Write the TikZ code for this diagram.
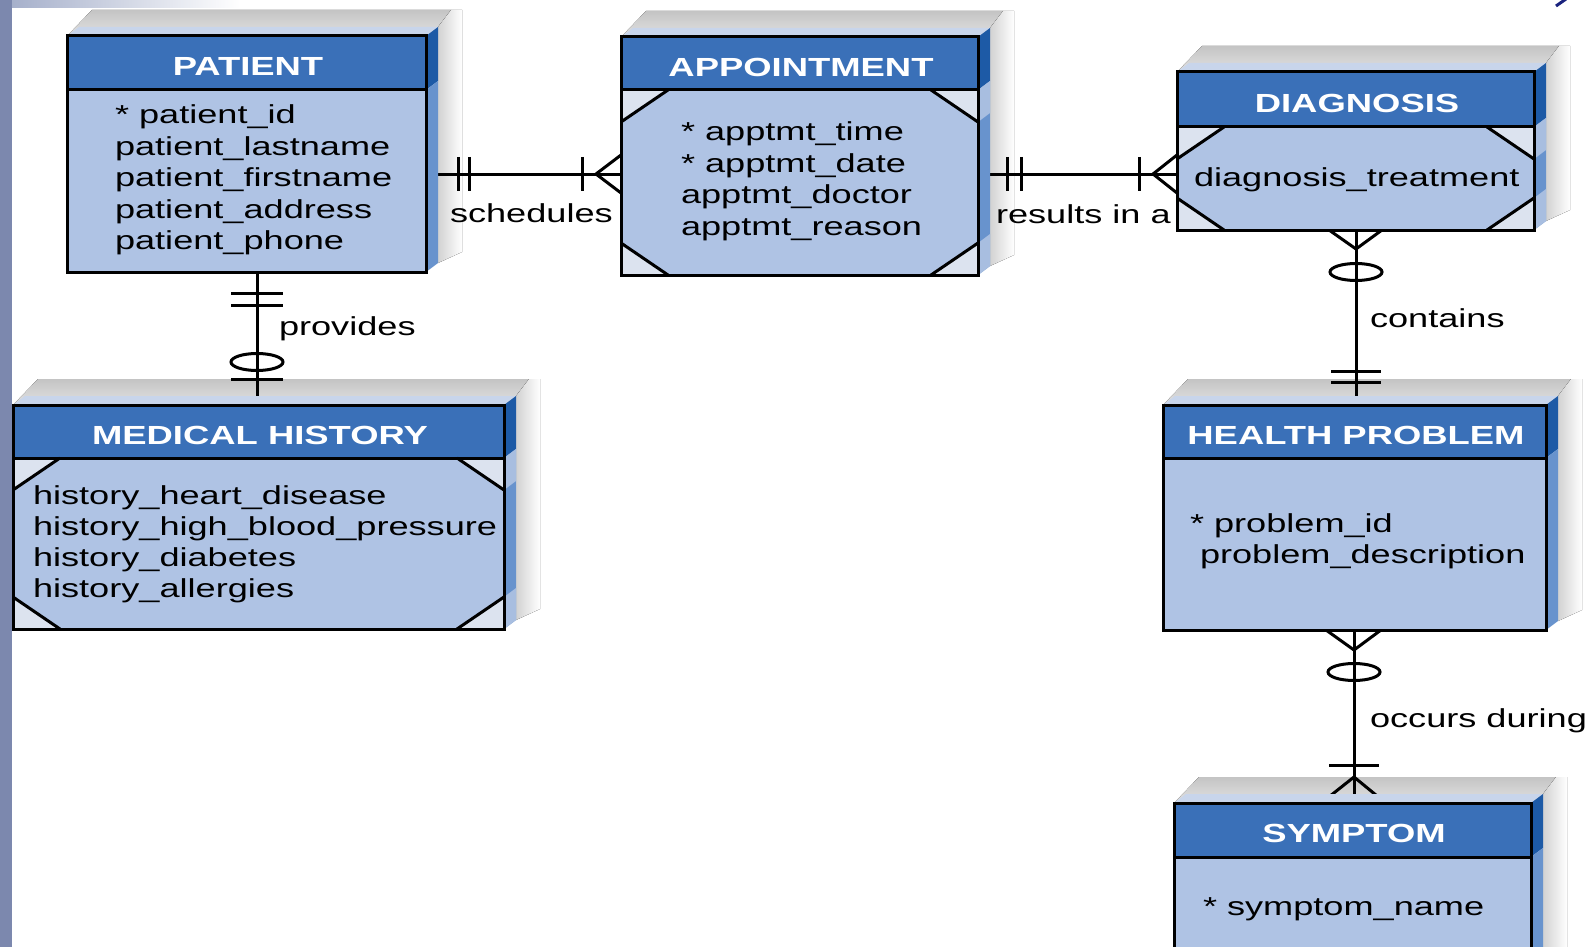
\documentclass[tikz,border=0pt]{standalone}
\usepackage{fontspec}
\setmainfont[FakeStretch=1.39]{Liberation Sans}
\usetikzlibrary{calc,fit}
\definecolor{hdr}{HTML}{3A70B8}
\definecolor{bodyc}{HTML}{AFC3E4}
\definecolor{cornerc}{HTML}{DCE3EF}
\definecolor{sidedk}{HTML}{1D5AA6}
\definecolor{sidemd}{HTML}{6893CD}
\definecolor{sidelt}{HTML}{A8BEE0}
\definecolor{topface}{HTML}{C8D5EB}
\definecolor{stripc}{HTML}{7C88AE}
\definecolor{bandc}{HTML}{A6B0CB}
\definecolor{shtop}{HTML}{C4C4C4}
\definecolor{shbot}{HTML}{E2E2E2}
\definecolor{shside}{HTML}{D2D2D2}
\definecolor{navy}{HTML}{1A237E}

\tikzset{
  conn/.style={line width=3pt, black},
  boxline/.style={line width=3pt, black, line join=miter},
  attr/.style={anchor=base west, inner sep=0pt, outer sep=0pt, font=\fontsize{26}{31}\selectfont},
  rel/.style={anchor=base west, inner sep=0pt, outer sep=0pt, font=\fontsize{26}{31}\selectfont},
  title/.style={inner sep=0pt, text=white, font=\fontsize{26.2}{31}\selectfont\bfseries},
  ebox/.style={inner sep=0pt, outer sep=0pt},
}

% #1 name, #2 L, #3 T, #4 R, #5 B
\newcommand\ershadow[5]{%
  \fill[top color=shtop, bottom color=shbot] (#2,#3) -- ({#2+25},{#3-26}) -- ({#4+25},{#3-26}) -- ({#4+12},{#3-9}) -- (#4,#3) -- cycle;
  \fill[left color=shside, right color=white] ({#4+12},{#3-9}) -- ({#4+25},{#3-26}) -- ({#4+36},{#3-26}) -- ({#4+36},{#5-20}) -- ({#4+12},{#5-9}) -- cycle;
  \node[ebox, fit={(#2,#3) (#4,#5)}] (#1) {};
}

% #1 name, #2 L, #3 T, #4 R, #5 B, #6 H, #7 title, #8 octagon flag
\newcommand\erbox[8]{%
  \fill[topface] (#2,#3) -- ({#2+12},{#3-9}) -- ({#4+12},{#3-9}) -- (#4,#3) -- cycle;
  \fill[sidedk] (#4,#3) -- ({#4+12},{#3-9}) -- ({#4+12},{#6-9}) -- (#4,#6) -- cycle;
  \fill[sidemd] (#4,#6) -- ({#4+12},{#6-9}) -- ({#4+12},{#5-9}) -- (#4,#5) -- cycle;
  \fill[hdr] (#2,#3) rectangle (#4,#6);
  \ifnum#8=1
    \fill[sidelt] (#4,#6) -- ({#4+12},{#6-9}) -- ({#4+12},{#6+23}) -- (#4,{#6+32}) -- cycle;
    \fill[sidelt] (#4,{#5-32}) -- ({#4+12},{#5-41}) -- ({#4+12},{#5-9}) -- (#4,#5) -- cycle;
    \fill[cornerc] (#2,#6) rectangle (#4,#5);
    \fill[bodyc] ({#2+47},#6) -- ({#4-47},#6) -- (#4,{#6+32}) -- (#4,{#5-32}) -- ({#4-47},#5) -- ({#2+47},#5) -- (#2,{#5-32}) -- (#2,{#6+32}) -- cycle;
    \draw[boxline] ({#2+47},#6) -- (#2,{#6+32}) ({#4-47},#6) -- (#4,{#6+32}) ({#2+47},#5) -- (#2,{#5-32}) ({#4-47},#5) -- (#4,{#5-32});
  \else
    \fill[bodyc] (#2,#6) rectangle (#4,#5);
  \fi
  \draw[boxline] (#2,#3) rectangle (#4,#5) (#2,#6) -- (#4,#6);
  \node[title] (#1-t) at ({(#2+#4)/2+1.5},{(#3+#6)/2+3.5}) {#7};
}

\begin{document}
\begin{tikzpicture}[x=1pt,y=-1pt]
\useasboundingbox (0,0) rectangle (1593,947);
\clip (0,0) rectangle (1593,947);
\fill[white] (0,0) rectangle (1593,947);
\fill[left color=bandc, right color=white] (12,0) rectangle (240,8);
\fill[stripc] (0,0) rectangle (12,947);
\draw[navy, line width=3pt] (1556,6) -- (1566,-1);

% shadows and named entity frames
\ershadow{patient}{67}{36}{426}{272}
\ershadow{appt}{621}{37}{978}{275}
\ershadow{diag}{1177}{72}{1534}{230}
\ershadow{medhist}{13}{405}{504}{629}
\ershadow{healthp}{1163}{405}{1546}{630}
\ershadow{symptom}{1174}{803}{1531}{980}

% schedules
\coordinate (sA) at ($(patient.north east)+(0,138)$);
\coordinate (sB) at ($(appt.north west)+(0,137)$);
\draw[conn] (sA) -- (sB);
\draw[conn] ($(sA)+(32,-17)$) -- +(0,34);
\draw[conn] ($(sA)+(43,-17)$) -- +(0,34);
\draw[conn] ($(sB)+(-39,-17)$) -- +(0,34);
\draw[conn] ($(sB)+(0,-19)$) -- ($(sB)+(-25,0)$) -- ($(sB)+(0,19)$);

% results in a
\coordinate (rA) at ($(appt.north east)+(0,137)$);
\coordinate (rB) at ($(diag.north west)+(0,102)$);
\draw[conn] (rA) -- (rB);
\draw[conn] ($(rA)+(29,-17)$) -- +(0,34);
\draw[conn] ($(rA)+(43,-17)$) -- +(0,34);
\draw[conn] ($(rB)+(-38,-17)$) -- +(0,34);
\draw[conn] ($(rB)+(0,-19)$) -- ($(rB)+(-24,0)$) -- ($(rB)+(0,19)$);

% provides
\coordinate (pA) at ($(patient.south west)+(190,0)$);
\coordinate (pB) at ($(medhist.north west)+(244,0)$);
\draw[conn] (pA) -- (pB);
\draw[conn] ($(pA)+(-26,21)$) -- +(52,0);
\draw[conn] ($(pA)+(-26,33)$) -- +(52,0);
\draw[conn] ($(pB)+(0,-43)$) ellipse [x radius=26pt, y radius=8.5pt];
\draw[conn] ($(pB)+(-26,-26)$) -- +(52,0);

% contains
\coordinate (cA) at ($(diag.south west)+(179,0)$);
\coordinate (cB) at ($(healthp.north west)+(193,0)$);
\draw[conn] (cA) -- (cB);
\draw[conn] ($(cA)+(-27,0)$) -- ($(cA)+(0,19)$) -- ($(cA)+(26,0)$);
\draw[conn] ($(cA)+(0,42)$) ellipse [x radius=26pt, y radius=8.5pt];
\draw[conn] ($(cB)+(-25,-34)$) -- +(50,0);
\draw[conn] ($(cB)+(-25,-23)$) -- +(50,0);

% occurs during
\coordinate (oA) at ($(healthp.south west)+(191,0)$);
\coordinate (oB) at ($(symptom.north west)+(180,0)$);
\draw[conn] (oA) -- (oB);
\draw[conn] ($(oA)+(-28,0)$) -- ($(oA)+(0,20)$) -- ($(oA)+(27,0)$);
\draw[conn] ($(oA)+(0,42)$) ellipse [x radius=26pt, y radius=8.5pt];
\draw[conn] ($(oB)+(-25,-38)$) -- +(50,0);
\draw[conn] ($(oB)+(-29,-3)$) -- ($(oB)+(0,-26)$) -- ($(oB)+(28,-3)$);

% entity boxes
\erbox{patient}{67}{36}{426}{272}{90}{PATIENT}{0}
\erbox{appt}{621}{37}{978}{275}{90}{APPOINTMENT}{1}
\erbox{diag}{1177}{72}{1534}{230}{127}{DIAGNOSIS}{1}
\erbox{medhist}{13}{405}{504}{629}{458}{MEDICAL HISTORY}{1}
\erbox{healthp}{1163}{405}{1546}{630}{458}{HEALTH PROBLEM}{0}
\erbox{symptom}{1174}{803}{1531}{980}{857}{SYMPTOM}{0}

% attributes
\node[attr] (patient-a) at (115,124) {\vtop{\baselineskip=31.4pt\hbox{* patient\_id}\hbox{patient\_lastname}\hbox{patient\_firstname}\hbox{patient\_address}\hbox{patient\_phone}}};
\node[attr] (appt-a) at (681,141) {\vtop{\baselineskip=31.5pt\hbox{* apptmt\_time}\hbox{* apptmt\_date}\hbox{apptmt\_doctor}\hbox{apptmt\_reason}}};
\node[attr] (diag-a) at (1194,186) {diagnosis\_treatment};
\node[attr] (medhist-a) at (33,504) {\vtop{\baselineskip=31pt\hbox{history\_heart\_disease}\hbox{history\_high\_blood\_pressure}\hbox{history\_diabetes}\hbox{history\_allergies}}};
\node[attr] (healthp-a1) at (1190,532) {* problem\_id};
\node[attr] (healthp-a2) at (1200,563) {problem\_description};
\node[attr] (symptom-a) at (1203,915) {* symptom\_name};

% relationship labels
\node[rel] (l-sched) at (450,222) {schedules};
\node[rel] (l-res) at (996,223) {results in a};
\node[rel] (l-prov) at (279,335) {provides};
\node[rel] (l-cont) at (1370,327) {contains};
\node[rel] (l-occ) at (1370,727) {occurs during};
\end{tikzpicture}
\end{document}
